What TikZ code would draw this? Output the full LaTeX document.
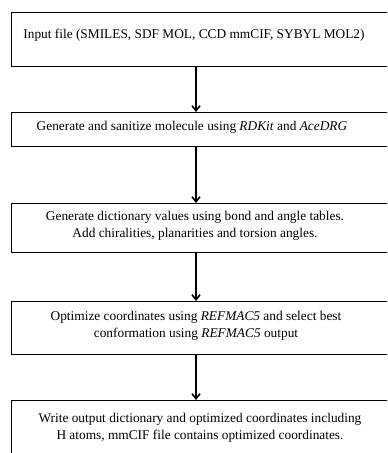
\documentclass[tikz,border=0pt]{standalone}
\usepackage{fontspec}
\setmainfont{Liberation Serif}
\usetikzlibrary{arrows.meta}
\begin{document}
\begin{tikzpicture}[x=1bp,y=-1bp,
  stepbox/.style={draw=black, line width=1.1bp, rectangle, anchor=north west, minimum width=400bp, inner sep=0pt},
  steptext/.style={align=center, font=\fontsize{13.4}{16.5}\selectfont, inner sep=0pt},
  flow/.style={line width=1.2bp, -{Straight Barb[length=5bp,width=8bp,line width=1.6bp]}}]
\useasboundingbox (0,0) rectangle (387,453);
\clip (0,0) rectangle (387,453);
\fill[white] (0,0) rectangle (387,453);
\node[stepbox, minimum height=54bp] (b1) at (11,12) {};
\node[stepbox, minimum height=34bp] (b2) at (11,112) {};
\node[stepbox, minimum height=49bp] (b3) at (11,203) {};
\node[stepbox, minimum height=53bp] (b4) at (11,301) {};
\node[stepbox, minimum height=70bp] (b5) at (11,400) {};
\coordinate (ax) at (196,0);
\node[steptext] (t1) at (194,35) {Input file (SMILES, SDF MOL, CCD mmCIF, SYBYL MOL2)};
\node[steptext] (t2) at (192,127) {Generate and sanitize molecule using \textit{RDKit} and \textit{AceDRG}};
\node[steptext] (t3) at (195,226) {Generate dictionary values using bond and angle tables.\\Add chiralities, planarities and torsion angles.};
\node[steptext] (t4) at (196,326) {Optimize coordinates using \textit{REFMAC5} and select best\\conformation using \textit{REFMAC5} output};
\node[steptext] (t5) at (200,428) {Write output dictionary and optimized coordinates including\\H atoms, mmCIF file contains optimized coordinates.};
\draw[flow] (b1.south -| ax) -- (b2.north -| ax);
\draw[flow] (b2.south -| ax) -- (b3.north -| ax);
\draw[flow] (b3.south -| ax) -- (b4.north -| ax);
\draw[flow] (b4.south -| ax) -- (b5.north -| ax);
\end{tikzpicture}
\end{document}
